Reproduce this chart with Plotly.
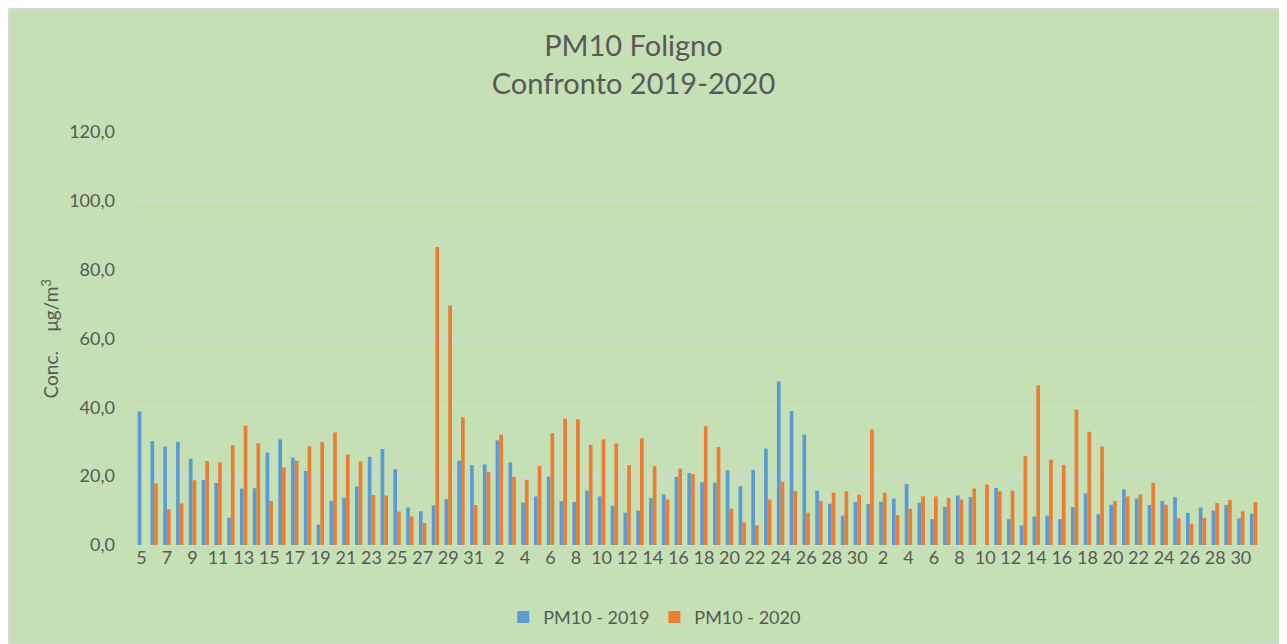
import plotly.graph_objects as go

# Categories: days from 5 March to 31 May
months = [(3, 5, 31), (4, 1, 30), (5, 1, 31)]
dates = []
days = []
for m, d0, d1 in months:
    for d in range(d0, d1 + 1):
        dates.append(f"2020-{m:02d}-{d:02d}")
        days.append(str(d))

pm10_2019 = [38.8, 30.2, 28.6, 30.0, 25.1, 18.9, 18.0, 7.9, 16.4, 16.5,
             26.9, 30.7, 25.4, 21.5, 5.9, 12.8, 13.7, 17.0, 25.6, 27.9,
             22.0, 10.9, 9.8, 11.5, 13.3, 24.5, 23.2,
             23.4, 30.4, 24.0, 12.3, 14.1, 19.9, 12.7, 12.5, 15.8, 14.1,
             11.4, 9.4, 10.0, 13.6, 14.7, 19.8, 20.9, 18.2, 18.1, 21.7,
             17.1, 21.8, 28.0, 47.5, 38.9, 32.1, 15.8, 12.0, 8.5, 12.5,
             11.9, 12.6, 13.5, 17.7, 12.3, 7.5, 11.1, 14.4, 13.9, None,
             16.6, 7.5, 5.7, 8.3, 8.5, 7.5, 11.0, 15.0, 8.9, 11.7,
             16.2, 13.5, 11.6, 12.8, 13.9, 9.3, 10.9, 10.0, 11.6, 7.7, 9.1]

pm10_2020 = [None, 17.9, 10.4, 12.1, 18.8, 24.4, 24.0, 29.0, 34.7, 29.6,
             12.8, 22.5, 24.5, 28.7, 29.9, 32.7, 26.3, 24.3, 14.5, 14.4,
             9.7, 8.3, 6.4, 86.6, 69.6, 37.1, 11.6,
             21.2, 32.1, 19.8, 18.9, 23.0, 32.5, 36.7, 36.5, 29.1, 30.7,
             29.5, 23.2, 31.0, 22.9, 13.2, 22.2, 20.6, 34.5, 28.5, 10.6,
             6.6, 5.7, 13.2, 18.4, 15.7, 9.4, 12.8, 15.2, 15.6, 14.6,
             33.5, 15.2, 8.7, 10.5, 14.1, 14.1, 13.7, 13.2, 16.4, 17.6,
             15.6, 15.8, 25.9, 46.4, 24.8, 23.3, 39.4, 32.9, 28.6, 12.8,
             14.1, 14.7, 18.1, 11.7, 7.8, 6.2, 7.9, 12.2, 13.1, 9.8, 12.5]

y_ticks = [0, 20, 40, 60, 80, 100, 120]

BG = "#C5E0B4"
TXT = "#595959"
FONT = "Lato, 'Open Sans', sans-serif"

W, H = 1279, 636
L, R, T, B = 127, 27, 124, 99
PW = W - L - R
PH = H - T - B

fig = go.Figure()
fig.add_trace(go.Bar(x=dates, y=pm10_2019, name="PM10 - 2019",
                     marker=dict(color="#5B9BD5", line=dict(width=0))))
fig.add_trace(go.Bar(x=dates, y=pm10_2020, name="PM10 - 2020",
                     marker=dict(color="#ED7D31", line=dict(width=0))))

fig.update_layout(
    width=W, height=H,
    paper_bgcolor=BG, plot_bgcolor=BG,
    margin=dict(l=L, r=R, t=T, b=B, autoexpand=False),
    separators=",.",
    barmode="group", bargap=0.42, bargroupgap=0,
    font=dict(family=FONT, size=18, color=TXT),
    title=dict(text="PM10 Foligno<br>Confronto 2019-2020",
               x=0.489, xanchor="center",
               y=1 - 48 / H, yanchor="top",
               font=dict(family=FONT, size=29, color=TXT)),
    legend=dict(orientation="h", x=0.462, xanchor="center", y=-0.175,
                yanchor="middle", font=dict(size=18, color=TXT),
                itemwidth=30, traceorder="normal"),
    showlegend=True,
)
fig.update_xaxes(type="category", categoryorder="array", categoryarray=dates,
                 tickmode="array", tickvals=dates[::2], ticktext=days[::2],
                 tickangle=0, showgrid=False, showline=False, ticks="",
                 tickfont=dict(size=18, color=TXT))
fig.update_yaxes(range=[0, 120], tickmode="array", tickvals=y_ticks,
                 tickformat=".1f", showgrid=True, gridcolor="#D9D9D9",
                 gridwidth=1.3, zeroline=True, zerolinecolor="#D9D9D9",
                 zerolinewidth=1.3, showline=False, ticks="",
                 ticklabelstandoff=19,
                 tickfont=dict(size=18, color=TXT))
fig.add_annotation(text="Conc.&nbsp;&nbsp;&nbsp; μg/m<sup>3</sup>",
                   xref="paper", yref="paper", x=(42 - L) / PW, y=0.5,
                   xanchor="center", yanchor="middle", textangle=-90,
                   showarrow=False, font=dict(size=19, color=TXT))
# thin chart border
fig.add_shape(type="rect", xref="paper", yref="paper",
              x0=-L / PW + 0.0005, x1=1 + R / PW - 0.0005,
              y0=-B / PH + 0.001, y1=1 + T / PH - 0.001,
              line=dict(color="#D9D9D9", width=1.5), fillcolor="rgba(0,0,0,0)",
              layer="below")

fig.write_html("out.html")
